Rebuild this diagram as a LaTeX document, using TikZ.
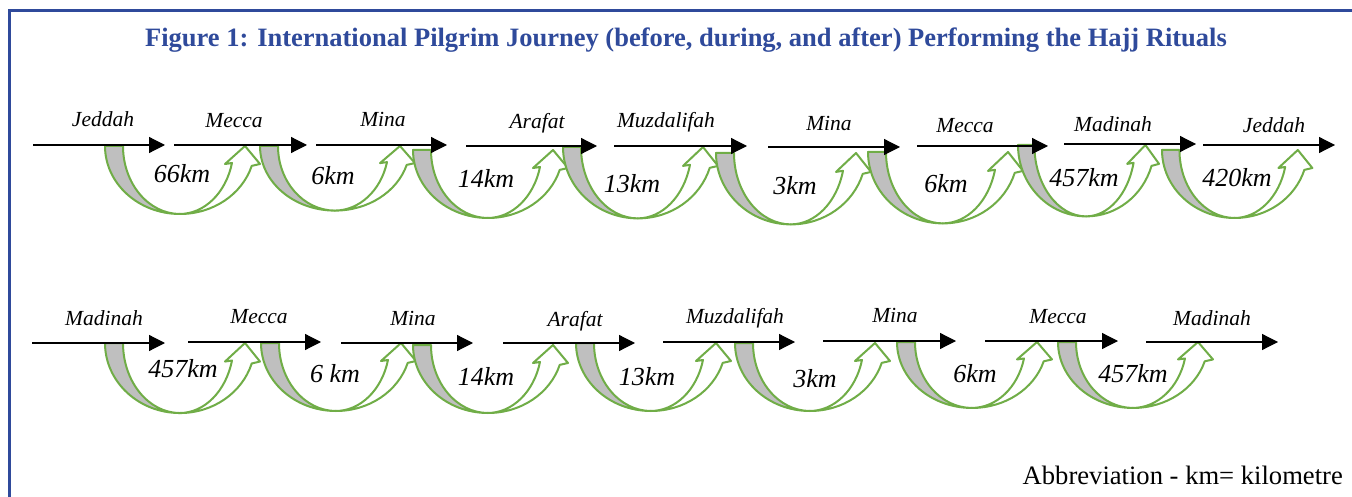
\documentclass[tikz,border=0pt]{standalone}
\usepackage{fontspec}
\setmainfont{Liberation Serif}
\usetikzlibrary{arrows.meta}
\definecolor{frameblue}{RGB}{47,74,155}
\definecolor{bandgreen}{RGB}{112,173,71}
\definecolor{bandgray}{RGB}{191,191,191}
\tikzset{
  frame/.style={draw=frameblue, line width=3pt},
  heading/.style={font=\fontsize{26.5}{30}\selectfont\bfseries, text=frameblue, anchor=base, inner sep=0pt},
  note/.style={font=\fontsize{26.6}{30}\selectfont, anchor=base east, inner sep=0pt},
  leg/.style={line width=1.2pt, -{Triangle[length=16pt,width=16pt]}},
  place/.style={font=\fontsize{21.5}{24}\selectfont\itshape, anchor=base, inner sep=0pt},
  dist/.style={font=\fontsize{26}{30}\selectfont\itshape, anchor=base, inner sep=0pt},
  bandedge/.style={draw=bandgreen, line width=2pt, line join=round},
  % U-shaped ribbon arrow: grey back face on the left, white face rising to the head;
  % both faces taper to the lowest point of the outer rim
  uturn/.pic={
    \path[bandedge, fill=bandgray] (0,0)
      arc[start angle=180, end angle=270, x radius=75pt, y radius=68pt]
      arc[start angle=270, end angle=180, x radius=57pt, y radius=68pt]
      -- cycle;
    \path[bandedge, fill=white] (75,68)
      arc[start angle=270, end angle=343, x radius=75pt, y radius=68pt]
      -- (155,18) -- (140,0) -- (120,18) -- (127,17)
      arc[start angle=345.5, end angle=270, x radius=54pt, y radius=68pt]
      -- cycle;
  }
}
\begin{document}
\begin{tikzpicture}[x=1pt, y=-1pt]
\useasboundingbox (0,0) rectangle (1352,497);

% frame
\coordinate (fr) at (1360,11);
\coordinate (fc) at (9,11);
\coordinate (fb) at (9,505);
\draw[frame] (fr) -- (fc) -- (fb);

\node[heading] (title) at (686,47) {Figure 1: International Pilgrim Journey (before, during, and after) Performing the Hajj Rituals};

% first journey: curved hops with distances
\foreach \i/\x/\y/\sx/\sy/\d/\dx/\dy in {
  1/105/146/1/1/66km/182/183,
  2/260/146/1/0.95/6km/333/185,
  3/413/150/1/1/14km/486/188,
  4/563/147/1/1.05/13km/632/193,
  5/716/153/1/1.05/3km/795/195,
  6/868/152/1/1.05/6km/946/193,
  7/1018/145/0.91/1.05/457km/1084/187,
  8/1162/150/0.97/1/420km/1237/187}{
  \coordinate (a\i) at (\x,\y);
  \pic[xscale=\sx, yscale=\sy] (hopa\i) at (a\i) {uturn};
  \node[dist] (da\i) at (\dx,\dy) {\d};
}

% first journey: legs with place names
\foreach \i/\xs/\xe/\y/\p/\px/\py in {
  1/33/165/145/Jeddah/103/127,
  2/174/307/145/Mecca/234/128,
  3/316/447/145/Mina/383/127,
  4/466/597/146/Arafat/537/129,
  5/614/747/146/Muzdalifah/666/128,
  6/768/900/147/Mina/829/131,
  7/917/1048/146/Mecca/965/133,
  8/1064/1196/144/Madinah/1113/132,
  9/1203/1335/145/Jeddah/1274/133}{
  \coordinate (sa\i) at (\xs,\y);
  \coordinate (ea\i) at (\xe,\y);
  \draw[leg] (sa\i) -- (ea\i);
  \node[place] (pa\i) at (\px,\py) {\p};
}

% second journey: curved hops with distances
\foreach \i/\x/\y/\sx/\sy/\d/\dx/\dy in {
  1/105/343/1/1.03/457km/183/377,
  2/261/343/1/1/6 km/335/382,
  3/413/345/1/1/14km/486/385,
  4/576/343/1/1/13km/647/385,
  5/735/343/1/1/3km/815/387,
  6/897/342/1/0.97/6km/975/382,
  7/1058/342/1/0.97/457km/1133/382}{
  \coordinate (b\i) at (\x,\y);
  \pic[xscale=\sx, yscale=\sy] (hopb\i) at (b\i) {uturn};
  \node[dist] (db\i) at (\dx,\dy) {\d};
}

% second journey: legs with place names
\foreach \i/\xs/\xe/\y/\p/\px/\py in {
  1/32/165/343/Madinah/104/325,
  2/188/321/342/Mecca/259/323,
  3/341/473/343/Mina/413/325,
  4/503/635/343/Arafat/575/326,
  5/663/795/342/Muzdalifah/735/323,
  6/823/956/341/Mina/895/322,
  7/985/1118/341/Mecca/1058/323,
  8/1146/1278/342/Madinah/1212/325}{
  \coordinate (sb\i) at (\xs,\y);
  \coordinate (eb\i) at (\xe,\y);
  \draw[leg] (sb\i) -- (eb\i);
  \node[place] (pb\i) at (\px,\py) {\p};
}

\node[note] (abbr) at (1343,484) {Abbreviation - km= kilometre};
\end{tikzpicture}
\end{document}
